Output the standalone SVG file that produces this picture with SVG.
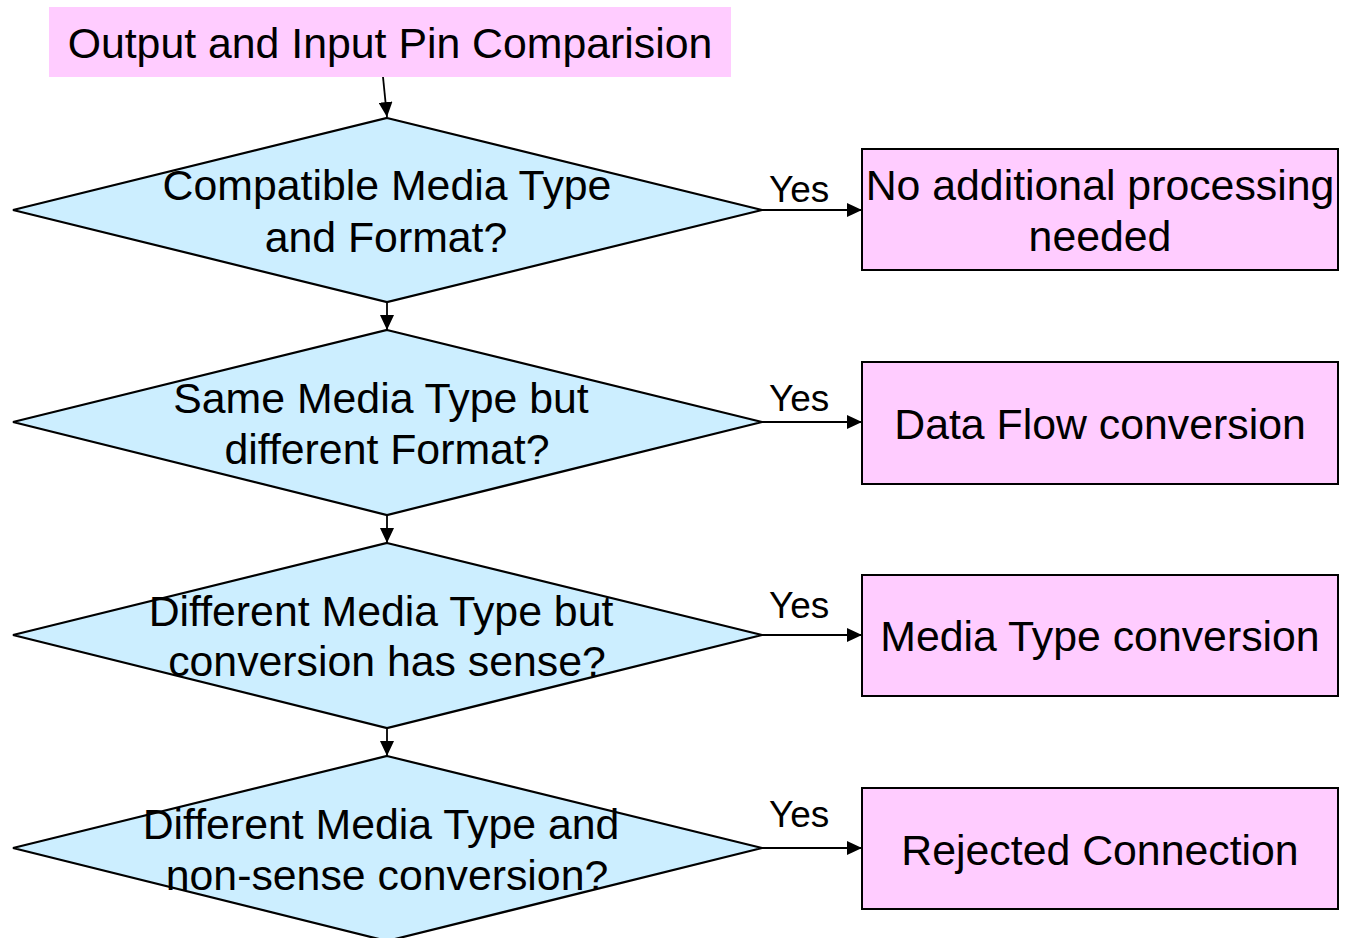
<svg xmlns="http://www.w3.org/2000/svg" width="1348" height="938" viewBox="0 0 1348 938">
  <defs>
    <marker id="arrow" markerUnits="userSpaceOnUse" markerWidth="16" markerHeight="14" refX="15" refY="7" orient="auto">
      <path d="M0,0 L15,7 L0,14 Z" fill="#000"/>
    </marker>
    <style>
      .lbl { font-family: "Liberation Sans", Arial, sans-serif; font-size: 42.8px; fill: #000; text-anchor: middle; }
      .yes { font-family: "Liberation Sans", Arial, sans-serif; font-size: 37px; fill: #000; }
      .decision { fill: #cceeff; stroke: #000; stroke-width: 2.2; }
      .result { fill: #ffccff; stroke: #000; stroke-width: 2; }
      .start { fill: #ffccff; stroke: none; }
      .edge { fill: none; stroke: #000; stroke-width: 1.8; marker-end: url(#arrow); }
    </style>
  </defs>
  <rect width="1348" height="938" fill="#fff"/>

  <!-- start node -->
  <g id="start">
    <rect class="start" x="49" y="7" width="682" height="70"/>
    <text class="lbl" x="390" y="58">Output and Input Pin Comparision</text>
  </g>

  <!-- decisions -->
  <g id="d1">
    <polygon class="decision" points="387,118 762,210 387,302 13,210"/>
    <text class="lbl" x="387" y="200">Compatible Media Type</text>
    <text class="lbl" x="386" y="252">and Format?</text>
  </g>
  <g id="d2">
    <polygon class="decision" points="387,330 762,422 387,515 13,422"/>
    <text class="lbl" x="381" y="413">Same Media Type but</text>
    <text class="lbl" x="387" y="464">different Format?</text>
  </g>
  <g id="d3">
    <polygon class="decision" points="387,543 762,635 387,728 13,635"/>
    <text class="lbl" x="381" y="626">Different Media Type but</text>
    <text class="lbl" x="387" y="676">conversion has sense?</text>
  </g>
  <g id="d4">
    <polygon class="decision" points="387,756 762,848 387,941 13,848"/>
    <text class="lbl" x="381" y="839">Different Media Type and</text>
    <text class="lbl" x="387" y="890">non-sense conversion?</text>
  </g>

  <!-- outcomes -->
  <g id="r1">
    <rect class="result" x="862" y="149" width="476" height="121"/>
    <text class="lbl" x="1100" y="200">No additional processing</text>
    <text class="lbl" x="1100" y="251">needed</text>
  </g>
  <g id="r2">
    <rect class="result" x="862" y="362" width="476" height="122"/>
    <text class="lbl" x="1100" y="439">Data Flow conversion</text>
  </g>
  <g id="r3">
    <rect class="result" x="862" y="575" width="476" height="121"/>
    <text class="lbl" x="1100" y="651">Media Type conversion</text>
  </g>
  <g id="r4">
    <rect class="result" x="862" y="788" width="476" height="121"/>
    <text class="lbl" x="1100" y="865">Rejected Connection</text>
  </g>

  <!-- connectors -->
  <g id="connectors">
    <line class="edge" x1="383" y1="77" x2="387" y2="117"/>
    <line class="edge" x1="387" y1="302" x2="387" y2="330"/>
    <line class="edge" x1="387" y1="515" x2="387" y2="543"/>
    <line class="edge" x1="387" y1="728" x2="387" y2="756"/>
    <line class="edge" x1="762" y1="210" x2="862" y2="210"/>
    <line class="edge" x1="762" y1="422" x2="862" y2="422"/>
    <line class="edge" x1="762" y1="635" x2="862" y2="635"/>
    <line class="edge" x1="762" y1="848" x2="862" y2="848"/>
    <text class="yes" x="769" y="202">Yes</text>
    <text class="yes" x="769" y="411">Yes</text>
    <text class="yes" x="769" y="618">Yes</text>
    <text class="yes" x="769" y="827">Yes</text>
  </g>
</svg>
